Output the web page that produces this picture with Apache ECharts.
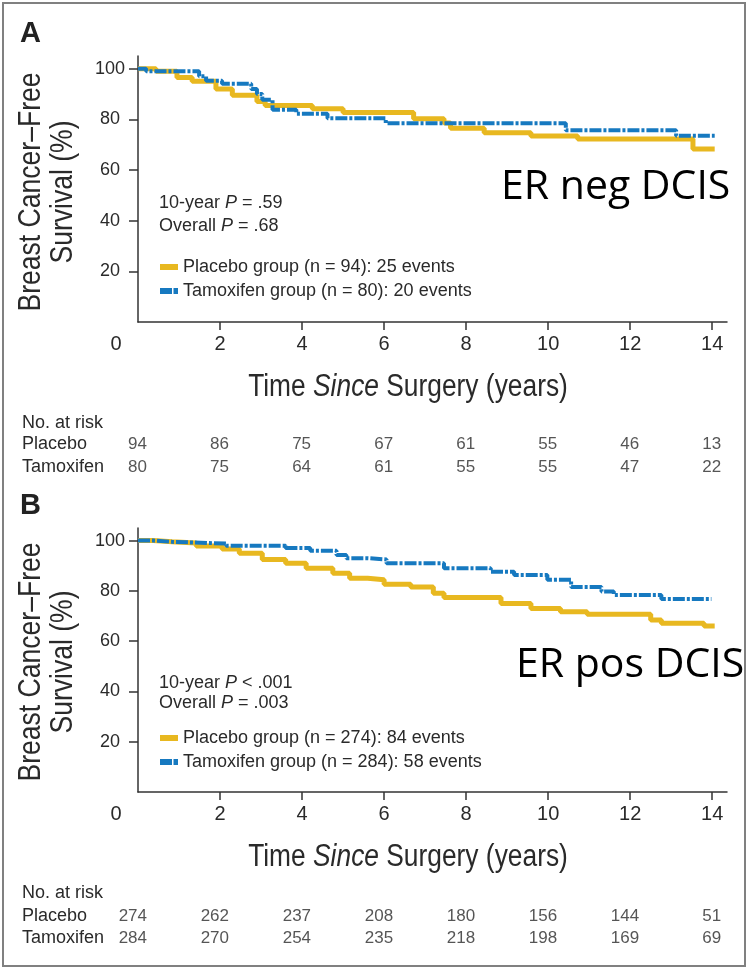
<!DOCTYPE html>
<html><head><meta charset="utf-8">
<script src="https://cdn.jsdelivr.net/npm/echarts@6/dist/echarts.min.js"></script>
<style>html,body{margin:0;padding:0;background:#fff}#c{width:748px;height:968px}</style>
</head><body><div id="c"></div>
<script>
// ---------- data ----------
const xTicks = [2, 4, 6, 8, 10, 12, 14];
const xLabels = [0, 2, 4, 6, 8, 10, 12, 14];
const yTicks = [20, 40, 60, 80, 100];
const riskTimes = [0, 2, 4, 6, 8, 10, 12, 14];
const riskGroups = ['Placebo', 'Tamoxifen'];

// Kaplan-Meier steps [years, % survival] (value holds until next time)
const aPlacebo = [[0,100],[0.44,99],[0.95,96.5],[1.32,95],[1.9,92],[2.3,89.5],[2.9,87],[3.1,85.5],[4.25,84.2],[5.0,82.7],[6.72,80.2],[7.46,78.6],[7.62,76.5],[8.44,74.7],[9.58,73.4],[10.72,72.2],[13.53,68.3],[14.06,68.3]];
const aTamox = [[0,100],[0.2,99],[1.49,97],[1.66,95.2],[2.05,94],[2.76,92],[2.9,90],[3.03,87.7],[3.28,83.8],[3.86,82.2],[4.62,80.4],[6.04,78.5],[10.43,75.7],[13.12,73.5],[14.06,73.5]];
const bPlacebo = [[0,100],[0.37,99.5],[0.83,99],[1.42,97.8],[2.05,96.6],[2.47,95],[3.03,92.5],[3.6,91],[4.1,89],[4.75,87],[5.16,85],[5.6,84.4],[6.0,82.6],[6.65,81.5],[7.2,79],[7.46,77.4],[8.85,75],[9.58,73],[10.3,71.7],[10.95,70.7],[12.5,68.4],[12.76,67.1],[13.8,66],[14.06,66]];
const bTamox = [[0,100],[0.37,99.5],[0.83,98.8],[2.15,97.9],[3.6,97],[4.2,96],[4.84,94.3],[5.08,93],[5.6,92.5],[6.06,91],[7.46,89],[8.6,87.6],[9.17,86.3],[9.98,84.4],[10.56,81.5],[11.3,79.7],[11.6,78.4],[12.76,76.8],[13.98,76.8]];

const aRiskPlacebo = [94, 86, 75, 67, 61, 55, 46, 13];
const aRiskTamox = [80, 75, 64, 61, 55, 55, 47, 22];
const bRiskPlacebo = [274, 262, 237, 208, 180, 156, 144, 51];
const bRiskTamox = [284, 270, 254, 235, 218, 198, 169, 69];

const aNames = ['Placebo group (n = 94): 25 events', 'Tamoxifen group (n = 80): 20 events'];
const bNames = ['Placebo group (n = 274): 84 events', 'Tamoxifen group (n = 284): 58 events'];
const aPText = [['10-year ', ' = .59'], ['Overall ', ' = .68']];
const bPText = [['10-year ', ' < .001'], ['Overall ', ' = .003']];
const panelLetters = ['A', 'B'];
const panelTags = ['ER neg DCIS', 'ER pos DCIS'];

// ---------- style ----------
const YEL = '#E8B820', BLU = '#1679C0', TXT = '#2a2a2a', AX = '#333';
const SANS = "'Liberation Sans', Arial, sans-serif";
const XMAX = 14.36;
const tamoxIcon = 'path://M0,0H12V6H0Z M13.5,0H18V6H13.5Z';

function mainX(gi) {
  return {
    type: 'value', gridIndex: gi, min: 0, max: XMAX,
    axisLine: { show: true, lineStyle: { color: AX, width: 1.5 } },
    axisTick: { show: true, customValues: xTicks, length: 8, lineStyle: { color: AX, width: 1.5 } },
    axisLabel: {
      customValues: xLabels, fontSize: 20, fontFamily: SANS, color: TXT, margin: 12,
      formatter: v => v === 0 ? '{z|0}' : String(v),
      rich: { z: { fontSize: 20, fontFamily: SANS, color: TXT, padding: [0, 44, 0, 0] } }
    },
    splitLine: { show: false }
  };
}
function mainY(gi) {
  return {
    type: 'value', gridIndex: gi, min: 0, max: 105,
    axisLine: { show: true, lineStyle: { color: AX, width: 1.5 } },
    axisTick: { show: true, customValues: yTicks, length: 9, lineStyle: { color: AX, width: 1.5 } },
    axisLabel: { customValues: yTicks, fontSize: 18, fontFamily: SANS, color: TXT, align: 'center', margin: 28 },
    splitLine: { show: false }
  };
}
function riskX(gi) {
  return { type: 'value', gridIndex: gi, min: 0, max: XMAX, show: false };
}
function riskY(gi) {
  return {
    type: 'category', gridIndex: gi, data: riskGroups, inverse: true,
    axisLine: { show: false }, axisTick: { show: false }, splitLine: { show: false },
    axisLabel: { interval: 0, hideOverlap: false, align: 'left', margin: 116, fontSize: 18, fontFamily: SANS, color: TXT }
  };
}
function kmSeries(name, data, gi, isTam) {
  return {
    type: 'line', name, data, xAxisIndex: gi, yAxisIndex: gi, step: 'end',
    symbol: 'none', silent: true, animation: false, z: isTam ? 4 : 3,
    itemStyle: { color: isTam ? BLU : YEL },
    lineStyle: isTam ? { color: BLU, width: 4, type: [12, 2, 3, 2], cap: 'butt' } : { color: YEL, width: 5 }
  };
}
function riskSeries(gi, placebo, tam) {
  const data = [];
  riskTimes.forEach((t, i) => { data.push([t, riskGroups[0], placebo[i]]); data.push([t, riskGroups[1], tam[i]]); });
  return {
    type: 'scatter', xAxisIndex: gi, yAxisIndex: gi, data, symbolSize: 0, silent: true, animation: false,
    label: { show: true, formatter: p => String(p.value[2]), position: 'left', distance: -9,
      fontSize: 17, fontFamily: SANS, color: TXT }
  };
}
function legend(names, top) {
  return {
    data: [{ name: names[0], icon: 'rect' }, { name: names[1], icon: tamoxIcon }],
    orient: 'vertical', left: 160, top, itemWidth: 18, itemHeight: 6, itemGap: 4, padding: 0,
    selectedMode: false, itemStyle: { borderWidth: 0 },
    textStyle: { fontSize: 18, fontFamily: SANS, color: TXT, lineHeight: 20 }
  };
}
function pTexts(lines, ys) {
  return lines.map((l, i) => ({
    type: 'text', x: 159, y: ys[i],
    style: { text: l[0] + '{i|P}' + l[1], fontSize: 18, fontFamily: SANS, fill: TXT,
      align: 'left', verticalAlign: 'middle',
      rich: { i: { fontSize: 18, fontFamily: SANS, fontStyle: 'italic', fill: TXT } } }
  }));
}
// condensed look: Liberation Sans squeezed horizontally
function yTitle(cy) {
  return { type: 'text', x: 47, y: cy, rotation: Math.PI / 2, scaleX: 0.83,
    style: { text: 'Breast Cancer\u2013Free\nSurvival (%)', fontSize: 32, fontFamily: SANS, fill: TXT,
      align: 'center', verticalAlign: 'middle', lineHeight: 32 } };
}
function xTitle(cy) {
  return { type: 'text', x: 408, y: cy, scaleX: 0.85,
    style: { text: '{n|Time }{i|Since}{n| Surgery (years)}', align: 'center', verticalAlign: 'middle',
      rich: { n: { fontSize: 31, fontFamily: SANS, fill: TXT }, i: { fontSize: 31, fontFamily: SANS, fontStyle: 'italic', fill: TXT } } } };
}
function plainText(text, x, y, size, opts) {
  return { type: 'text', x, y,
    style: Object.assign({ text, fontSize: size, fontFamily: SANS, fill: TXT, align: 'left', verticalAlign: 'middle' }, opts || {}) };
}

const chart = echarts.init(document.getElementById('c'), null, { renderer: 'canvas' });
chart.setOption({
  animation: false,
  backgroundColor: '#fff',
  grid: [
    { left: 138, right: 21, top: 56, height: 266 },
    { left: 138, right: 21, top: 528, height: 264 },
    { left: 138, right: 21, top: 432.5, height: 46 },
    { left: 138, right: 21, top: 905, height: 44 }
  ],
  xAxis: [mainX(0), mainX(1), riskX(2), riskX(3)],
  yAxis: [mainY(0), mainY(1), riskY(2), riskY(3)],
  legend: [legend(aNames, 257), legend(bNames, 728)],
  series: [
    kmSeries(aNames[0], aPlacebo, 0, false), kmSeries(aNames[1], aTamox, 0, true),
    kmSeries(bNames[0], bPlacebo, 1, false), kmSeries(bNames[1], bTamox, 1, true),
    riskSeries(2, aRiskPlacebo, aRiskTamox), riskSeries(3, bRiskPlacebo, bRiskTamox)
  ],
  graphic: [
    { type: 'rect', shape: { x: 3, y: 3, width: 742, height: 963 }, style: { fill: 'none', stroke: '#808080', lineWidth: 2 }, silent: true },
    plainText(panelLetters[0], 20, 34, 29, { fontWeight: 'bold', fill: '#222' }),
    plainText(panelLetters[1], 20, 506, 29, { fontWeight: 'bold', fill: '#222' }),
    yTitle(192), yTitle(662), xTitle(387), xTitle(857),
    ...pTexts(aPText, [203, 226]), ...pTexts(bPText, [683, 703]),
    plainText('No. at risk', 22, 423, 18), plainText('No. at risk', 22, 893, 18),
    plainText(panelTags[0], 501, 187, 41, { fontFamily: "'Open Sans', 'Noto Sans', sans-serif", fill: '#000' }),
    plainText(panelTags[1], 516, 665, 41, { fontFamily: "'Open Sans', 'Noto Sans', sans-serif", fill: '#000' })
  ]
});
</script></body></html>
